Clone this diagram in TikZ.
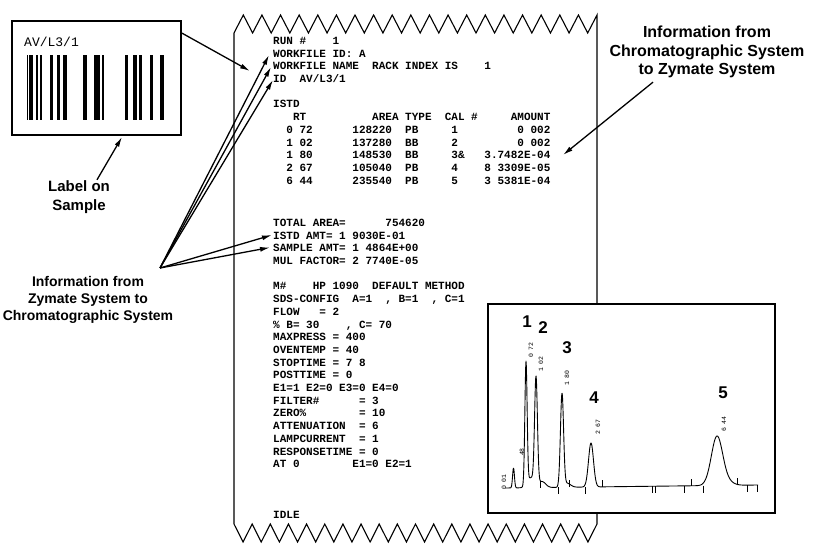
\documentclass[tikz,border=0pt]{standalone}
\usepackage{fontspec}
\setmainfont{Liberation Sans}
\newfontfamily\prnfont{Liberation Mono}
\usetikzlibrary{arrows.meta}
\tikzset{
  note/.style={align=center,inner sep=0pt,font=\bfseries\fontsize{14}{17}\selectfont},
  ptr/.style={-{Latex[length=10pt,width=5pt]},line width=1.3pt},
  sheet/.style={line width=1.1pt,line join=miter},
  prn/.style={align=left,inner sep=0pt,anchor=north west,font=\fontsize{11}{12.7}\selectfont\prnfont\bfseries},
  rtlbl/.style={rotate=90,inner sep=0pt,font=\fontsize{6.5}{7}\selectfont\prnfont},
  pknum/.style={inner sep=0pt,font=\bfseries\fontsize{17}{17}\selectfont},
  trace/.style={line width=0.9pt,line join=round},
}
\begin{document}
\begin{tikzpicture}[x=1pt,y=-1pt,
  declare function={g(\pu,\pc,\pw)=exp(-1*pow(min(abs(\pu-\pc)/\pw,3.5),2));
                    bl(\pu)=488-(\pu-505)*3/253;}]
  \useasboundingbox (0,0) rectangle (813,545);

  % printout sheet with torn edges
  \draw[sheet] (234,524) -- (234,33)
    \foreach \i in {1,...,39} { -- ({234+\i*363/39},{mod(\i,2)==1 ? 15 : 33}) }
    -- (597,524)
    \foreach \i in {1,...,40} { -- ({597-\i*363/40},{mod(\i,2)==1 ? 542 : 524}) };

  \node[prn] (report) at (273,37) {RUN~\#~~~~1\\
WORKFILE~ID:~A\\
WORKFILE~NAME~~RACK~INDEX~IS~~~~1\\
ID~~AV/L3/1\\
~\\
ISTD\\
~~~RT~~~~~~~~~~AREA~TYPE~~CAL~\#~~~~~AMOUNT\\
~~0~72~~~~~~128220~~PB~~~~~1~~~~~~~~~0~002\\
~~1~02~~~~~~137280~~BB~~~~~2~~~~~~~~~0~002\\
~~1~80~~~~~~148530~~BB~~~~~3\&~~~3.7482E-04\\
~~2~67~~~~~~105040~~PB~~~~~4~~~~8~3309E-05\\
~~6~44~~~~~~235540~~PB~~~~~5~~~~3~5381E-04\\[29.6pt]
TOTAL~AREA=~~~~~~754620\\
ISTD~AMT=~1~9030E-01\\
SAMPLE~AMT=~1~4864E+00\\
MUL~FACTOR=~2~7740E-05\\
~\\
M\#~~~~HP~1090~~DEFAULT~METHOD\\
SDS-CONFIG~~A=1~~,~B=1~~,~C=1\\
FLOW~~~=~2\\
\%~B=~30~~~~,~C=~70\\
MAXPRESS~=~400\\
OVENTEMP~=~40\\
STOPTIME~=~7~8\\
POSTTIME~=~0\\
E1=1~E2=0~E3=0~E4=0\\
FILTER\#~~~~~~=~3\\
ZERO\%~~~~~~~~=~10\\
ATTENUATION~~=~6\\
LAMPCURRENT~~=~1\\
RESPONSETIME~=~0\\
AT~0~~~~~~~~E1=0~E2=1\\
~\\
~\\
~\\
IDLE};

  % bar-code label
  \node[draw,line width=1.8pt,fill=white,minimum width=169pt,minimum height=114pt,inner sep=0pt] (tag) at (96.5,78) {};
  \node[anchor=west,inner sep=0pt,font=\fontsize{13}{13}\selectfont\prnfont] (tagid) at (24,42) {AV/L3/1};
  \foreach \bx/\bw in {26.5/0.8,29.3/4,36/1.7,40/1.7,50/2.7,57.3/2.7,63.3/3.3,83.3/4,
                       94.3/5.7,101.7/2.3,125/3.3,133.3/3.3,139.3/2.4,150/3.3,160/4}
    \fill (\bx,55) rectangle ++(\bw,65);

  % chromatogram
  \node[draw,line width=2pt,fill=white,minimum width=287pt,minimum height=209pt,inner sep=0pt] (chrom) at (631.5,408) {};
  \draw[trace] plot[domain=505:758,samples=700] (\x,{bl(\x)-20*g(\x,513.5,1.3)-123*g(\x,526,1.6)
      -10*g(\x,531,5)-107*g(\x,536,2)-6*g(\x,542,5)-93*g(\x,562,2.2)-4*g(\x,567,5)
      -44*g(\x,591,3.5)-49*g(\x,717,8)-3*g(\x,728,8)});
  \foreach \tx/\td in {540/-1,558/1,569/-1,585/1,602/-1,652/1,655/1,684/1,691/-1,703/1,737/-1,747/1,757/1}
    \draw[trace] (\tx,{bl(\tx)}) -- ++(0,{7*\td});
  \node[pknum] (p1) at (527,322) {1};
  \node[pknum] (p2) at (543,328) {2};
  \node[pknum] (p3) at (567,348) {3};
  \node[pknum] (p4) at (594,398) {4};
  \node[pknum] (p5) at (723,393) {5};
  \node[rtlbl] (rt0) at (504,482) {0 01};
  \node[rtlbl] (rtx) at (522,452) {48};
  \node[rtlbl] (rt1) at (531,350) {0 72};
  \node[rtlbl] (rt2) at (541,364) {1 02};
  \node[rtlbl] (rt3) at (567,378) {1 80};
  \node[rtlbl] (rt4) at (598,427) {2 67};
  \node[rtlbl] (rt5) at (724,424) {6 44};

  % callouts
  \node[note,font=\bfseries\fontsize{15}{19}\selectfont] (sample) at (79,197.5) {Label on\\Sample};
  \node[note] (zym2chr) at (88,300) {Information from\\Zymate System to\\Chromatographic System};
  \node[note,font=\bfseries\fontsize{16}{18.5}\selectfont] (chr2zym) at (707,52) {Information from\\Chromatographic System\\to Zymate System};

  \coordinate (tagfoot) at (122,137);
  \coordinate (idtip) at (250,71);
  \coordinate (hub) at (160,268);
  \coordinate (wfid) at (269,55);
  \coordinate (wfname) at (271,67);
  \coordinate (idline) at (273,80);
  \coordinate (istdamt) at (272,235);
  \coordinate (sampamt) at (270,247.5);
  \coordinate (amount3) at (563,155);

  \draw[ptr] ([xshift=18pt,yshift=1pt]sample.north) -- (tagfoot);
  \draw[ptr] ([yshift=-13pt]tag.north east) -- (idtip);
  \foreach \tip in {wfid,wfname,idline,istdamt,sampamt}
    \draw[ptr] (hub) -- (\tip);
  \draw[ptr] ([xshift=-54pt,yshift=-4pt]chr2zym.south) -- (amount3);
\end{tikzpicture}
\end{document}
